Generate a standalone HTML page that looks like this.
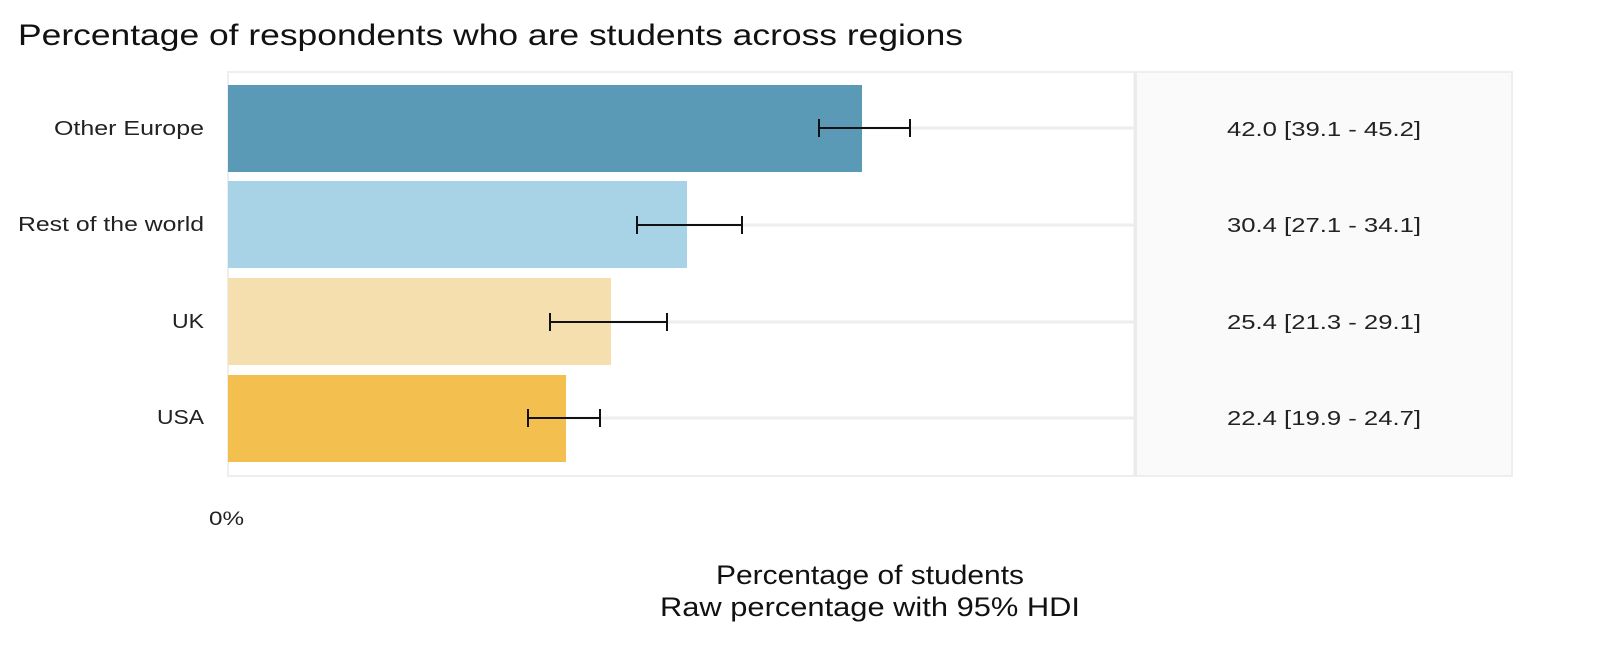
<!DOCTYPE html>
<html><head><style>
html,body{margin:0;padding:0;background:#fff;width:1600px;height:666px;overflow:hidden}
text{font-family:"Liberation Sans",sans-serif}
</style></head><body>
<svg width="1600" height="666" xmlns="http://www.w3.org/2000/svg">
<text x="18" y="45" font-size="30" fill="#111" textLength="945" lengthAdjust="spacingAndGlyphs">Percentage of respondents who are students across regions</text>
<rect x="1136" y="72" width="376" height="404" fill="#fafafa" stroke="#eee" stroke-width="2"/>
<rect x="228" y="72" width="907" height="404" fill="#fff" stroke="#eee" stroke-width="2"/>
<line x1="1135" y1="72" x2="1135" y2="476" stroke="#ebebeb" stroke-width="3"/>
<g stroke="#eeeeee" stroke-width="3">
<line x1="228" y1="128" x2="1134" y2="128"/>
<line x1="228" y1="225" x2="1134" y2="225"/>
<line x1="228" y1="322" x2="1134" y2="322"/>
<line x1="228" y1="418" x2="1134" y2="418"/>
</g>
<rect x="228" y="85" width="634" height="87" fill="#5b9ab6"/>
<rect x="228" y="181" width="459" height="87" fill="#a8d3e7"/>
<rect x="228" y="278" width="383" height="87" fill="#f6dfae"/>
<rect x="228" y="375" width="338" height="87" fill="#f3c04f"/>
<g stroke="#111" stroke-width="2" fill="none">
<path d="M819 128H910M819 119V137M910 119V137"/>
<path d="M637 225H742M637 216V234M742 216V234"/>
<path d="M550 322H667M550 313V331M667 313V331"/>
<path d="M528 418H600M528 409V427M600 409V427"/>
</g>
<g font-size="20" fill="#222" lengthAdjust="spacingAndGlyphs">
<text x="54" y="135" textLength="150" lengthAdjust="spacingAndGlyphs">Other Europe</text>
<text x="18" y="231" textLength="186" lengthAdjust="spacingAndGlyphs">Rest of the world</text>
<text x="172" y="328" textLength="32" lengthAdjust="spacingAndGlyphs">UK</text>
<text x="157" y="424" textLength="47" lengthAdjust="spacingAndGlyphs">USA</text>
</g>
<g font-size="20" fill="#222">
<text x="1227" y="136" textLength="194" lengthAdjust="spacingAndGlyphs">42.0 [39.1 - 45.2]</text>
<text x="1227" y="232" textLength="194" lengthAdjust="spacingAndGlyphs">30.4 [27.1 - 34.1]</text>
<text x="1227" y="329" textLength="194" lengthAdjust="spacingAndGlyphs">25.4 [21.3 - 29.1]</text>
<text x="1227" y="425" textLength="194" lengthAdjust="spacingAndGlyphs">22.4 [19.9 - 24.7]</text>
<text x="209" y="525" font-size="19" textLength="35" lengthAdjust="spacingAndGlyphs">0%</text>
<text x="716" y="584" font-size="27" fill="#111" textLength="308" lengthAdjust="spacingAndGlyphs">Percentage of students</text>
<text x="660" y="616" font-size="27" fill="#111" textLength="420" lengthAdjust="spacingAndGlyphs">Raw percentage with 95% HDI</text>
</g>
</svg>
</body></html>
